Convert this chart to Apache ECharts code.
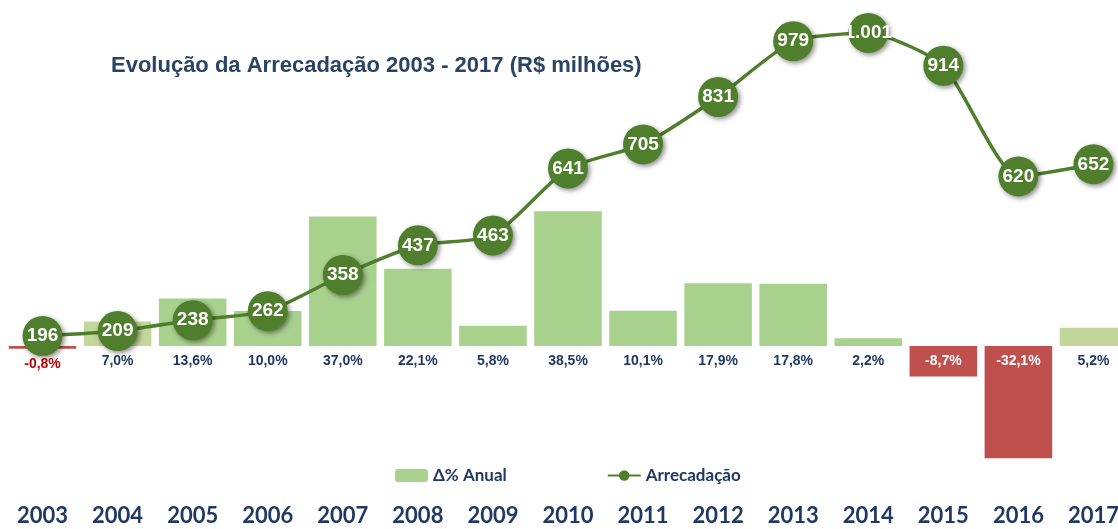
<!DOCTYPE html>
<html lang="pt">
<head>
    <meta charset="UTF-8">
    <title>Evolução da Arrecadação</title>
    <script src="https://cdn.jsdelivr.net/npm/echarts@6/dist/echarts.min.js"></script>
    <style>
        html, body { margin: 0; padding: 0; background: #fff; }
        #chart { width: 1118px; height: 529px; }
    </style>
</head>
<body>
<div id="chart"></div>
<script>
    // dados
    var anos = ['2003', '2004', '2005', '2006', '2007', '2008', '2009', '2010',
        '2011', '2012', '2013', '2014', '2015', '2016', '2017'];
    var variacao = [-0.8, 7.0, 13.6, 10.0, 37.0, 22.1, 5.8, 38.5, 10.1, 17.9, 17.8, 2.2, -8.7, -32.1, 5.2];
    var arrecadacao = [196, 209, 238, 262, 358, 437, 463, 641, 705, 831, 979, 1001, 914, 620, 652];

    var navy = '#1f3864';
    var verde = '#4f7f2d';

    function corBarra(v, i) {
        if (v < 0) return '#c0504d';
        if (i === 1 || i === anos.length - 1) return '#c3d69b';
        return '#a9d18e';
    }

    var barras = variacao.map(function (v, i) {
        var neg = v < 0;
        var dentro = v <= -5;
        return {
            value: v,
            itemStyle: { color: corBarra(v, i) },
            label: {
                position: dentro ? 'insideTop' : 'bottom',
                distance: 8,
                color: dentro ? '#ffffff' : (neg ? '#c00000' : navy)
            }
        };
    });

    function fmtMil(v) {
        return String(v).replace(/(\d)(?=(\d{3})$)/, '$1.');
    }

    var myChart = echarts.init(document.getElementById('chart'));
    myChart.setOption({
        animation: false,
        title: {
            text: 'Evolução da Arrecadação 2003 - 2017 (R$ milhões)',
            left: 106,
            top: 50,
            textStyle: {
                fontFamily: 'Liberation Sans',
                fontWeight: 'bold',
                fontSize: 22,
                color: '#2a4466'
            }
        },
        legend: {
            bottom: 40,
            left: 390,
            itemGap: 100,
            itemWidth: 33,
            itemHeight: 13,
            textStyle: { fontFamily: 'Lato', fontWeight: 'bold', fontSize: 17, color: navy },
            data: [
                { name: 'Δ% Anual', itemStyle: { color: '#a9d18e' } },
                { name: 'Arrecadação' }
            ]
        },
        grid: { left: 5, right: -13, top: 10, bottom: 59, outerBoundsMode: 'none' },
        xAxis: {
            type: 'category',
            data: anos,
            axisLine: { show: false },
            axisTick: { show: false },
            axisLabel: {
                margin: 35,
                fontFamily: 'Lato',
                fontWeight: 'bold',
                fontSize: 22,
                color: navy
            }
        },
        yAxis: [
            { type: 'value', min: -35.43, max: 96, show: false, splitLine: { show: false } },
            { type: 'value', min: -160, max: 1062, show: false, splitLine: { show: false } }
        ],
        series: [
            {
                name: 'Δ% Anual',
                type: 'bar',
                yAxisIndex: 0,
                barCategoryGap: '10%',
                data: barras,
                label: {
                    show: true,
                    fontFamily: 'Liberation Sans',
                    fontWeight: 'bold',
                    fontSize: 14,
                    formatter: function (p) {
                        return p.value.toFixed(1).replace('.', ',') + '%';
                    }
                }
            },
            {
                name: 'Arrecadação',
                type: 'line',
                yAxisIndex: 1,
                smooth: 0.2,
                symbol: 'circle',
                symbolSize: 40,
                z: 5,
                data: arrecadacao,
                lineStyle: { color: verde, width: 3.5 },
                itemStyle: {
                    color: verde,
                    shadowBlur: 5,
                    shadowColor: 'rgba(0,0,0,0.45)',
                    shadowOffsetX: 2,
                    shadowOffsetY: 2
                },
                label: {
                    show: true,
                    position: 'inside',
                    fontFamily: 'Liberation Sans',
                    fontWeight: 'bold',
                    fontSize: 19,
                    color: '#ffffff',
                    formatter: function (p) { return fmtMil(p.value); }
                }
            }
        ]
    });
</script>
</body>
</html>
